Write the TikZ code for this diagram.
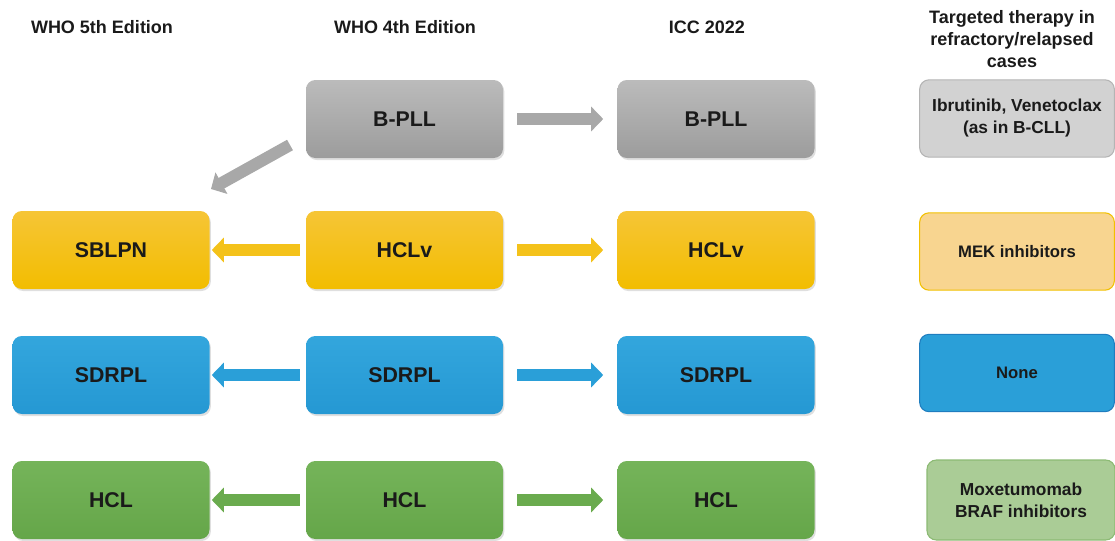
\documentclass[tikz,border=0pt]{standalone}
\usepackage{fontspec}
\setmainfont{Liberation Sans}
\usetikzlibrary{shadows,arrows.meta}
\definecolor{gtop}{HTML}{BBBBBB}\definecolor{gbot}{HTML}{9C9C9C}
\definecolor{ytop}{HTML}{F6C536}\definecolor{ybot}{HTML}{F2BD00}
\definecolor{btop}{HTML}{33A6DD}\definecolor{bbot}{HTML}{2598D3}
\definecolor{ntop}{HTML}{75B45A}\definecolor{nbot}{HTML}{65A649}
\definecolor{garr}{HTML}{A8A8A8}\definecolor{yarr}{HTML}{F4C21A}
\definecolor{barr}{HTML}{2A9FD8}\definecolor{narr}{HTML}{6AAB4E}
\definecolor{rgfill}{HTML}{D2D2D2}\definecolor{rgdraw}{HTML}{B4B4B4}
\definecolor{ryfill}{HTML}{F8D590}\definecolor{rydraw}{HTML}{F2C000}
\definecolor{rbfill}{HTML}{2A9FD8}\definecolor{rbdraw}{HTML}{1F7DBF}
\definecolor{rnfill}{HTML}{AACC96}\definecolor{rndraw}{HTML}{8CBA74}
\definecolor{txt}{HTML}{1A1A1A}
\begin{document}
\begin{tikzpicture}[x=0.75pt,y=-0.75pt,
  box/.style={rounded corners=7pt, minimum width=147.75pt, minimum height=58.5pt,
    inner sep=0pt, text=txt, font=\bfseries\fontsize{16}{19}\selectfont,
    drop shadow={shadow xshift=1pt, shadow yshift=-1.5pt, opacity=0.25}},
  graybox/.style={box, top color=gtop, bottom color=gbot},
  yelbox/.style={box, top color=ytop, bottom color=ybot},
  bluebox/.style={box, top color=btop, bottom color=bbot},
  grnbox/.style={box, top color=ntop, bottom color=nbot},
  tbox/.style={rounded corners=7pt, minimum height=58pt, inner sep=0pt, line width=0.8pt,
    align=center, text=txt, font=\bfseries\fontsize{13}{16.5}\selectfont},
  hdr/.style={text=txt, font=\bfseries\fontsize{13.5}{16.5}\selectfont, align=center},
  blk/.style={line width=9pt, -{Triangle[length=9pt,width=18pt]}},
  rarr/.style={blk, shorten <=10.5pt, shorten >=10.5pt},
  larr/.style={blk, shorten <=4.5pt, shorten >=1.5pt}
]
\useasboundingbox (0,0) rectangle (1115,540);
% headers
\node[hdr] (h5) at (102,27) {WHO 5th Edition};
\node[hdr] (h4) at (405,27) {WHO 4th Edition};
\node[hdr] (hi) at (707,27) {ICC 2022};
\node[hdr] (ht) at (1012,39) {Targeted therapy in\\refractory/relapsed\\cases};
% row 1
\node[graybox] (w4a) at (404.5,119) {B-PLL};
\node[graybox] (ia) at (716,119) {B-PLL};
% row 2
\node[yelbox] (w5b) at (111,250) {SBLPN};
\node[yelbox] (w4b) at (404.5,250) {HCLv};
\node[yelbox] (ib) at (716,250) {HCLv};
% row 3
\node[bluebox] (w5c) at (111,375) {SDRPL};
\node[bluebox] (w4c) at (404.5,375) {SDRPL};
\node[bluebox] (ic) at (716,375) {SDRPL};
% row 4
\node[grnbox] (w5d) at (111,500) {HCL};
\node[grnbox] (w4d) at (404.5,500) {HCL};
\node[grnbox] (id) at (716,500) {HCL};
% therapy column
\node[tbox, minimum width=146pt, fill=rgfill, draw=rgdraw] (ta) at (1017,118.5) {Ibrutinib, Venetoclax\\(as in B-CLL)};
\node[tbox, minimum width=146pt, fill=ryfill, draw=rydraw, font=\bfseries\fontsize{12.5}{16}\selectfont] (tb) at (1017,251.5) {MEK inhibitors};
\node[tbox, minimum width=146pt, fill=rbfill, draw=rbdraw, font=\bfseries\fontsize{12.5}{16}\selectfont] (tc) at (1017,373) {None};
\node[tbox, minimum width=141pt, minimum height=60pt, fill=rnfill, draw=rndraw] (td) at (1021,500) {Moxetumomab\\BRAF inhibitors};
% arrows
\draw[rarr, garr] (w4a) -- (ia);
\coordinate (d1) at (290,145);
\coordinate (d2) at (211,189);
\draw[blk, garr] (d1) -- (d2);
\draw[rarr, yarr] (w4b) -- (ib);
\draw[larr, yarr] (w4b) -- (w5b);
\draw[rarr, barr] (w4c) -- (ic);
\draw[larr, barr] (w4c) -- (w5c);
\draw[rarr, narr] (w4d) -- (id);
\draw[larr, narr] (w4d) -- (w5d);
\end{tikzpicture}
\end{document}
